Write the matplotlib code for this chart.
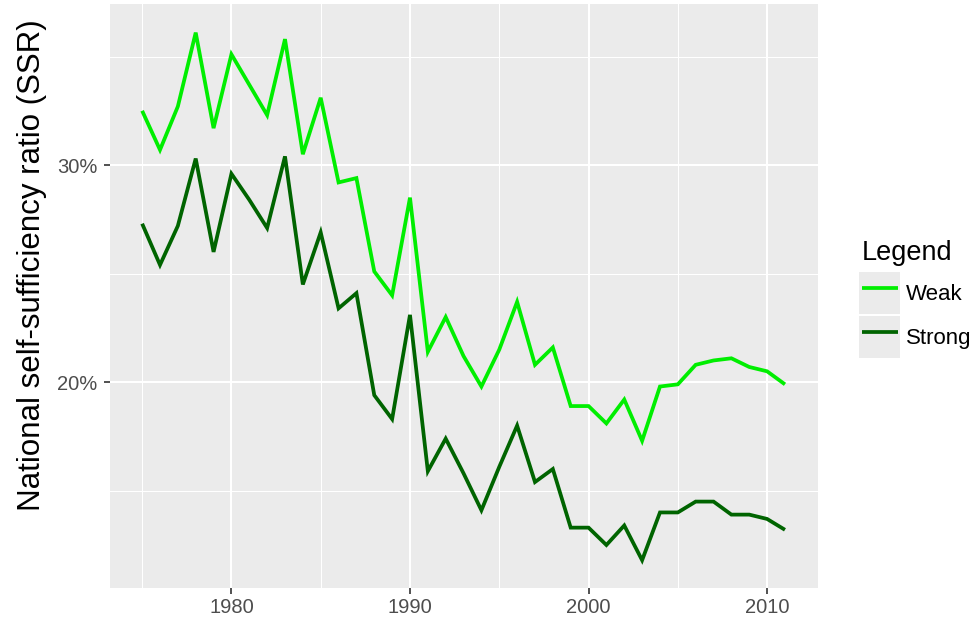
import matplotlib
matplotlib.use("Agg")
import matplotlib.pyplot as plt
from matplotlib.legend_handler import HandlerLine2D
from matplotlib.patches import Rectangle
from matplotlib.ticker import FuncFormatter, MultipleLocator

plt.rcParams['font.family'] = ['Liberation Sans', 'DejaVu Sans']

years = list(range(1975, 2012))

# national self-sufficiency ratio, percent
weak = [32.5, 30.7, 32.7, 36.1, 31.7, 35.1, 33.7, 32.3, 35.8, 30.5,
        33.1, 29.2, 29.4, 25.1, 24.0, 28.5, 21.4, 23.0, 21.2, 19.8,
        21.5, 23.7, 20.8, 21.6, 18.9, 18.9, 18.1, 19.2, 17.3, 19.8,
        19.9, 20.8, 21.0, 21.1, 20.7, 20.5, 19.9]
strong = [27.3, 25.4, 27.2, 30.3, 26.0, 29.6, 28.4, 27.1, 30.4, 24.5,
          26.9, 23.4, 24.1, 19.4, 18.3, 23.1, 15.9, 17.4, 15.8, 14.1,
          16.1, 18.0, 15.4, 16.0, 13.3, 13.3, 12.5, 13.4, 11.8, 14.0,
          14.0, 14.5, 14.5, 13.9, 13.9, 13.7, 13.2]

series_names = ["Weak", "Strong"]
series_colors = ["#00EE00", "#006400"]


class KeyHandler(HandlerLine2D):
    # ggplot-style legend key: grey square behind the line
    def create_artists(self, legend, orig_handle, xdescent, ydescent,
                       width, height, fontsize, trans):
        bg = Rectangle((-xdescent - 2, -ydescent - 3), width + 4, height + 6,
                       facecolor="#EBEBEB", edgecolor="none", transform=trans)
        arts = super().create_artists(legend, orig_handle, xdescent, ydescent,
                                      width, height, fontsize, trans)
        return [bg] + list(arts)


W, H = 976, 620
fig = plt.figure(figsize=(W / 100, H / 100), dpi=100)
fig.patch.set_facecolor("white")
ax = fig.add_axes([110 / W, (H - 588) / H, 708 / W, (588 - 4.4) / H])
ax.set_facecolor("#EBEBEB")

for vals, name, col in zip([weak, strong], series_names, series_colors):
    ax.plot(years, vals, color=col, lw=2.7, label=name,
            solid_joinstyle="miter", solid_capstyle="butt")

ax.set_xlim(1973.2, 2012.85)
ax.set_ylim(10.52, 37.4)

ax.xaxis.set_major_locator(MultipleLocator(10))
ax.xaxis.set_minor_locator(MultipleLocator(5))
ax.yaxis.set_major_locator(MultipleLocator(10))
ax.yaxis.set_minor_locator(MultipleLocator(5))
ax.yaxis.set_major_formatter(FuncFormatter(lambda v, p: f"{v:.0f}%"))

ax.grid(which="major", color="white", lw=1.5)
ax.grid(which="minor", color="white", lw=0.75)
ax.set_axisbelow(True)
for s in ax.spines.values():
    s.set_visible(False)

ax.tick_params(which="major", length=4, width=1.2, color="#333333",
               labelsize=14.5, labelcolor="#4D4D4D")
ax.tick_params(axis="x", pad=3)
ax.tick_params(axis="y", pad=5)
ax.tick_params(which="minor", length=0)

ax.set_ylabel("National self-sufficiency ratio (SSR)", fontsize=22.5,
              color="black", labelpad=7)
ax.yaxis.label.set_y(0.553)

leg = ax.legend(handler_map={plt.Line2D: KeyHandler()},
                loc="upper left", bbox_to_anchor=(862 / W, 1 - 240 / H),
                bbox_transform=fig.transFigure, frameon=False,
                title="Legend", title_fontsize=19.5, fontsize=16,
                handlelength=1.6, handleheight=1.98, labelspacing=0.45,
                handletextpad=0.36, borderpad=0, borderaxespad=0,
                alignment="left")
for line in leg.get_lines():
    line.set_linewidth(3.2)

fig.savefig("out.png", dpi=100)
